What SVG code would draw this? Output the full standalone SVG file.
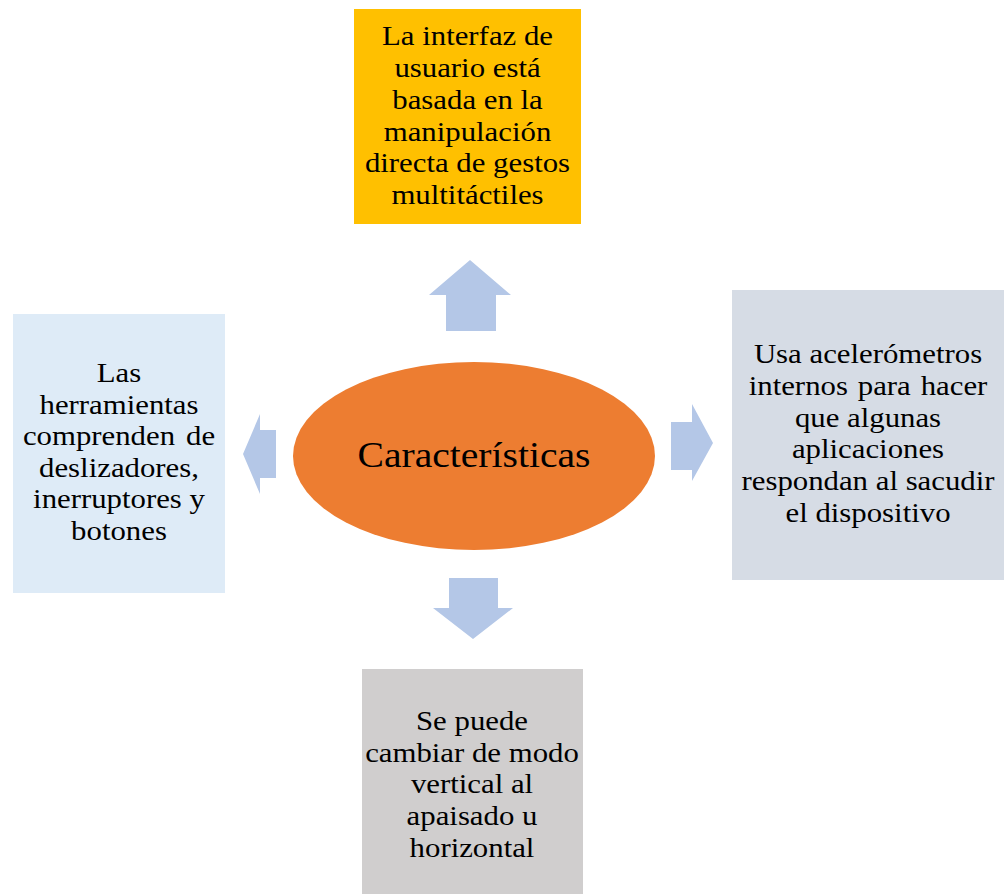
<svg xmlns="http://www.w3.org/2000/svg" width="1004" height="894" viewBox="0 0 1004 894">
<style>
.t{font-family:"Liberation Serif","Times New Roman",serif;font-size:28px;fill:#000;text-anchor:middle}
.c{font-family:"Liberation Serif","Times New Roman",serif;font-size:36px;fill:#000;text-anchor:middle}
.arr{fill:#B4C7E7}
</style>
<rect width="1004" height="894" fill="#fff"/>
<g id="connectors">
<polygon class="arr" points="470,260 511,295 496,295 496,331 446,331 446,295 429,295"/>
<polygon class="arr" points="671,422 692,422 692,404 713,443 692,481 692,470 671,470"/>
<polygon class="arr" points="449,578 498,578 498,608 513,608 473,639 433,608 449,608"/>
<polygon class="arr" points="243,454 260,414 260,430 276,430 276,478 260,478 260,494"/>
</g>
<g id="center">
<ellipse cx="474" cy="456" rx="181" ry="94" fill="#ED7D31"/>
<g transform="translate(474,0) scale(1.1,1)"><text class="c" x="0" y="467">Características</text></g>
</g>
<g id="top">
<rect x="354" y="9" width="227" height="215" fill="#FFC000"/>
<g transform="translate(467.5,0) scale(1.1,1)">
<text class="t" x="0" y="45.5">La interfaz de</text>
<text class="t" x="0" y="77.2">usuario está</text>
<text class="t" x="0" y="108.9">basada en la</text>
<text class="t" x="0" y="140.6">manipulación</text>
<text class="t" x="0" y="172.3">directa de gestos</text>
<text class="t" x="0" y="204">multitáctiles</text>
</g>
</g>
<g id="left">
<rect x="13" y="314" width="212" height="279" fill="#DEEBF7"/>
<g transform="translate(119,0) scale(1.1,1)">
<text class="t" x="0" y="382">Las</text>
<text class="t" x="0" y="413.6">herramientas</text>
<text class="t" x="0" y="445.2" word-spacing="3">comprenden de</text>
<text class="t" x="0" y="476.8">deslizadores,</text>
<text class="t" x="0" y="508.4">inerruptores y</text>
<text class="t" x="0" y="540">botones</text>
</g>
</g>
<g id="right">
<rect x="732" y="290" width="272" height="290" fill="#D6DCE5"/>
<g transform="translate(868,0) scale(1.1,1)">
<text class="t" x="0" y="363">Usa acelerómetros</text>
<text class="t" x="0" y="394.8" word-spacing="2">internos para hacer</text>
<text class="t" x="0" y="426.6">que algunas</text>
<text class="t" x="0" y="458.4">aplicaciones</text>
<text class="t" x="0" y="490.2">respondan al sacudir</text>
<text class="t" x="0" y="522">el dispositivo</text>
</g>
</g>
<g id="bottom">
<rect x="362" y="669" width="221" height="225" fill="#D0CECE"/>
<g transform="translate(472,0) scale(1.1,1)">
<text class="t" x="0" y="730">Se puede</text>
<text class="t" x="0" y="761.8">cambiar de modo</text>
<text class="t" x="0" y="793.5">vertical al</text>
<text class="t" x="0" y="825.2">apaisado u</text>
<text class="t" x="0" y="857">horizontal</text>
</g>
</g>
</svg>
